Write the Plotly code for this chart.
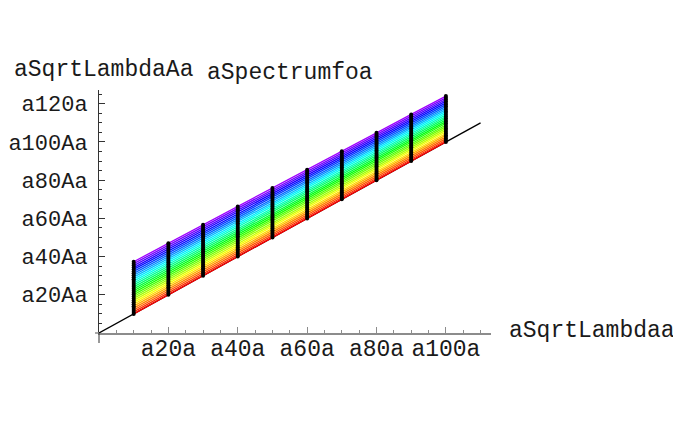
import colorsys
import plotly.graph_objects as go

# ---- data ----
x_vals = [10, 20, 30, 40, 50, 60, 70, 80, 90, 100]          # SqrtLambda sample points
top_offsets = [27.3, 27.0, 26.6, 26.2, 25.9, 25.5, 25.1, 24.8, 24.4, 24.0]  # spectrum top above y=x
n_levels = 28                                                # number of spectral levels
diag_x = [0, 110]
diag_y = [0, 110]

x_tick_vals = [20, 40, 60, 80, 100]
x_tick_text = ["a20a", "a40a", "a60a", "a80a", "a100a"]
y_tick_vals = [20, 40, 60, 80, 100, 120]
y_tick_text = ["a20Aa", "a40Aa", "a60Aa", "a80Aa", "a100Aa", "a120a"]
x_minor = [5, 10, 15, 25, 30, 35, 45, 50, 55, 65, 70, 75, 85, 90, 95, 105, 110]
y_minor = [5, 10, 15, 25, 30, 35, 45, 50, 55, 65, 70, 75, 85, 90, 95, 105, 110, 115, 125]

FONT = "Liberation Mono, Courier New, monospace"
TXT = "#1a1a1a"

levels = []
for k in range(n_levels):
    frac = k / (n_levels - 1)
    levels.append([x + t * frac for x, t in zip(x_vals, top_offsets)])

fig = go.Figure()

fig.add_trace(go.Scatter(x=diag_x, y=diag_y, mode="lines",
                         line=dict(color="black", width=1.3), hoverinfo="skip"))

for k, ys in enumerate(levels):
    h = 0.77 * k / (n_levels - 1)
    r, g, b = colorsys.hsv_to_rgb(h, 1, 1)
    col = f"rgb({int(r*255)},{int(g*255)},{int(b*255)})"
    fig.add_trace(go.Scatter(x=x_vals, y=ys, mode="lines",
                             line=dict(color=col, width=1.35), hoverinfo="skip"))

px_, py_ = [], []
for i, x in enumerate(x_vals):
    for ys in levels:
        px_.append(x)
        py_.append(ys[i])
fig.add_trace(go.Scatter(x=px_, y=py_, mode="markers",
                         marker=dict(color="black", size=4, line=dict(width=0)),
                         hoverinfo="skip"))

# page body has an 8px margin, so the figure is placed at (8, 8)
OFF = 8
FW, FH = 681 - OFF, 421 - OFF
L, W, T, H = 99 - OFF, 392, 90 - OFF, 243
RL, RT = 99, 90  # plot-area corner in page pixels (for annotation placement)


def ax_(px):
    return (px - RL) / W


def ay_(py):
    return (RT + H - py) / H


fig.update_layout(
    width=FW, height=FH,
    margin=dict(l=L, r=FW - L - W, t=T, b=FH - T - H, autoexpand=False),
    paper_bgcolor="white", plot_bgcolor="white",
    showlegend=False,
    font=dict(family=FONT, size=23, color=TXT),
    xaxis=dict(range=[0, 113], showgrid=False, zeroline=False, automargin=False,
               showline=True, linecolor="#8c8c8c", linewidth=1.5,
               tickmode="array", tickvals=x_tick_vals, ticktext=x_tick_text,
               ticks="inside", ticklen=6, tickcolor="#8c8c8c", tickwidth=1,
               minor=dict(tickvals=x_minor, ticks="inside", ticklen=3,
                          tickcolor="#8c8c8c", tickwidth=1),
               tickfont=dict(family=FONT, size=23, color=TXT),
               ticklabelstandoff=-6),
    yaxis=dict(range=[0, 127.2], showgrid=False, zeroline=False, automargin=False,
               showline=True, linecolor="#333333", linewidth=1,
               tickmode="array", tickvals=y_tick_vals, ticktext=y_tick_text,
               ticks="inside", ticklen=6, tickcolor="#333333", tickwidth=1,
               minor=dict(tickvals=y_minor, ticks="inside", ticklen=3,
                          tickcolor="#333333", tickwidth=1),
               tickfont=dict(family=FONT, size=22, color=TXT),
               ticklabelstandoff=6),
    annotations=[
        dict(text="aSqrtLambdaAa", xref="paper", yref="paper",
             x=ax_(104), y=ay_(70), xanchor="center", yanchor="middle",
             showarrow=False, font=dict(family=FONT, size=23, color=TXT)),
        dict(text="aSpectrumfoa", xref="paper", yref="paper",
             x=ax_(290), y=ay_(73), xanchor="center", yanchor="middle",
             showarrow=False, font=dict(family=FONT, size=23, color=TXT)),
        dict(text="aSqrtLambdaa", xref="paper", yref="paper",
             x=ax_(507), y=ay_(331), xanchor="left", yanchor="middle",
             showarrow=False, font=dict(family=FONT, size=23, color=TXT)),
    ],
    shapes=[
        dict(type="line", xref="paper", yref="paper", x0=-4 / W, x1=0, y0=0, y1=0,
             line=dict(color="#8c8c8c", width=1.5)),
        dict(type="line", xref="paper", yref="paper", x0=0, x1=0, y0=-10 / H, y1=0,
             line=dict(color="#333333", width=1)),
    ],
)

fig.write_html("out.html")
